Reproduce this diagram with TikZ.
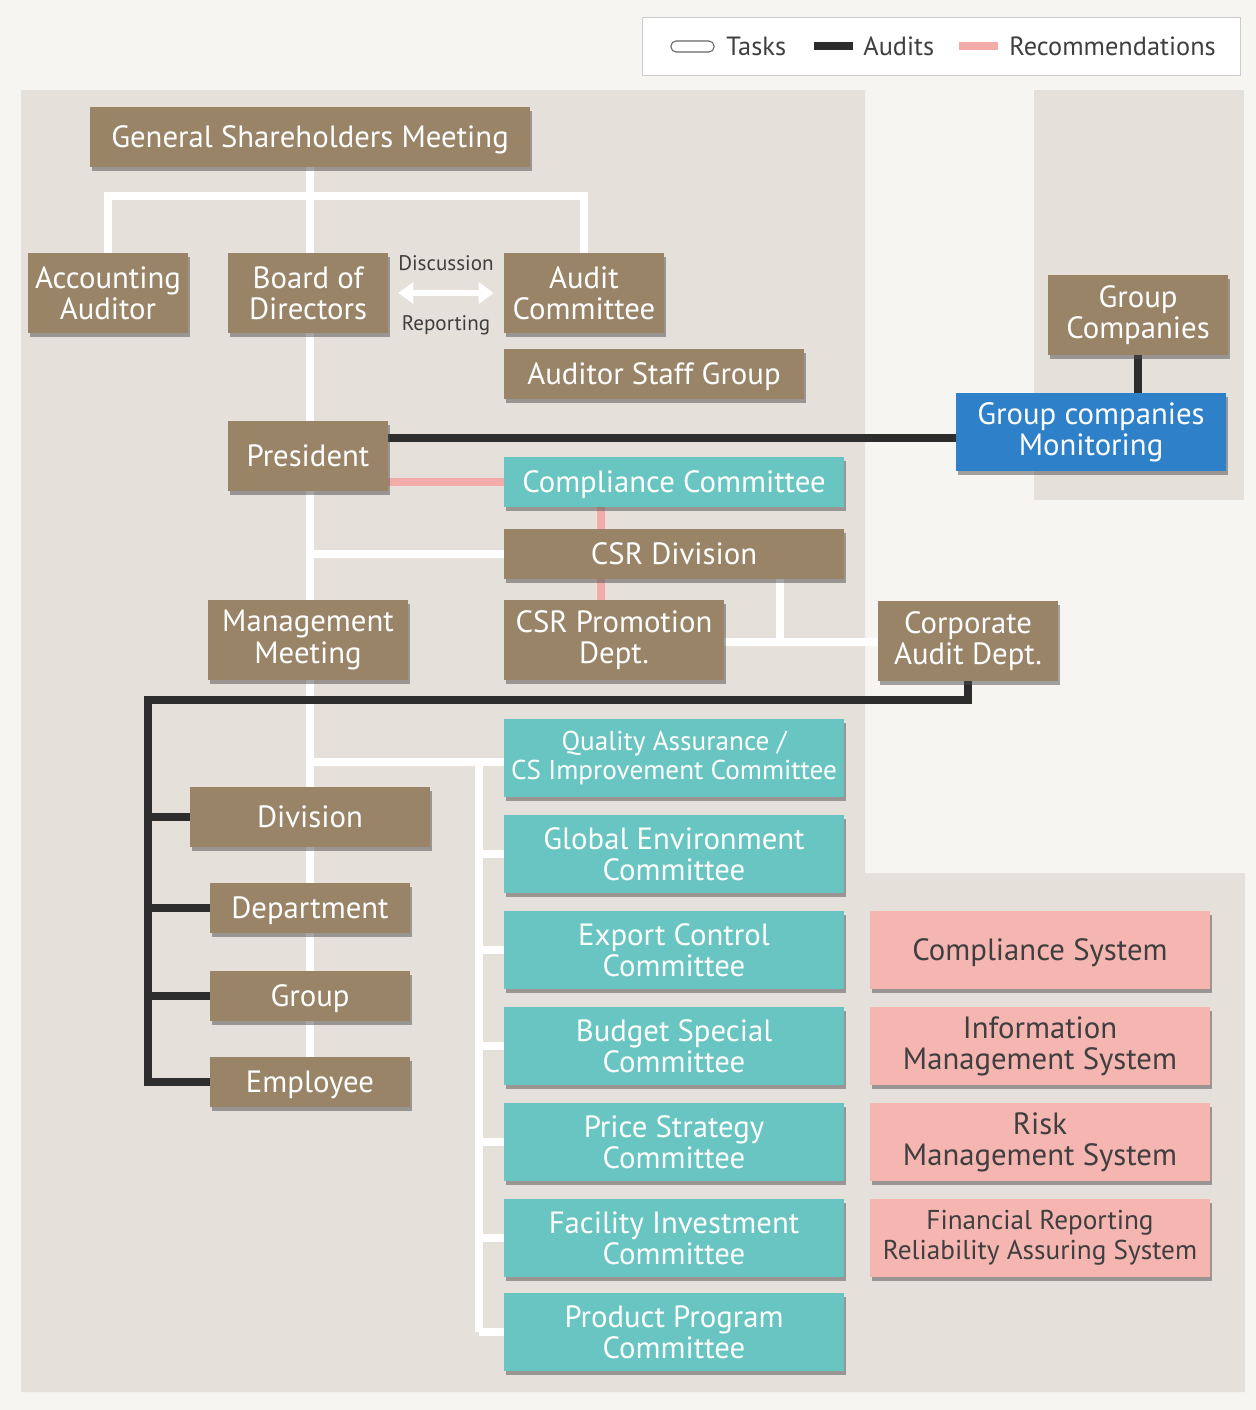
\documentclass[tikz,border=0pt]{standalone}
\usepackage{fontspec}
\setmainfont{PT Sans}
\usetikzlibrary{arrows.meta, calc, shadows}
\pgfdeclarelayer{bg}
\pgfdeclarelayer{wires}
\pgfsetlayers{bg,wires,main}
\definecolor{pagebg}{HTML}{F7F5F1}
\definecolor{panelbg}{HTML}{E6E0DB}
\definecolor{brownfill}{HTML}{9A8468}
\definecolor{tealfill}{HTML}{68C5C1}
\definecolor{bluefill}{HTML}{2E80C8}
\definecolor{pinkfill}{HTML}{F5B5B0}
\definecolor{pinkwire}{HTML}{F3ABA9}
\definecolor{auditwire}{HTML}{2D2D2D}
\definecolor{darktext}{HTML}{3F3F3F}

\begin{document}
\begin{tikzpicture}[x=0.02cm, y=-0.02cm,
  box/.style={inner sep=0pt, align=center, text=white, font=\fontsize{17.5}{17.8}\selectfont,
    drop shadow={shadow xshift=0.04cm, shadow yshift=-0.08cm, opacity=0.5, fill=black!70}},
  oneline/.style={text height=12.5pt, text depth=0pt},
  brownbox/.style={box, fill=brownfill},
  tealbox/.style={box, fill=tealfill, minimum width=6.8cm, minimum height=1.56cm},
  bluebox/.style={box, fill=bluefill},
  pinkbox/.style={box, fill=pinkfill, text=darktext, minimum width=6.8cm, minimum height=1.56cm},
  taskwire/.style={white, line width=0.15cm},
  auditline/.style={auditwire, line width=0.16cm},
  recline/.style={pinkwire, line width=0.16cm},
  smalltext/.style={text=darktext, font=\fontsize{12}{13}\selectfont},
  legendtext/.style={text=darktext, font=\fontsize{15}{16}\selectfont, anchor=west, inner sep=0pt}]
\useasboundingbox (0,0) rectangle (1256,1410);

\node[brownbox, oneline, minimum width=8.8cm, minimum height=1.2cm] (gsm) at (310,137) {General Shareholders Meeting};
\node[brownbox, minimum width=3.2cm, minimum height=1.6cm] (accaud) at (108,293) {Accounting\\Auditor};
\node[brownbox, minimum width=3.2cm, minimum height=1.6cm] (board) at (308,293) {Board of\\Directors};
\node[brownbox, minimum width=3.2cm, minimum height=1.6cm] (auditcom) at (584,293) {Audit\\Committee};
\node[brownbox, oneline, minimum width=6cm, minimum height=1cm] (staff) at (654,374) {Auditor Staff Group};
\node[brownbox, oneline, minimum width=3.2cm, minimum height=1.4cm] (pres) at (308,456) {President};
\node[tealbox, oneline, minimum height=1cm] (compcom) at (674,482) {Compliance Committee};
\node[brownbox, oneline, minimum width=6.8cm, minimum height=1cm] (csrdiv) at (674,554) {CSR Division};
\node[brownbox, minimum width=4cm, minimum height=1.6cm] (mgmt) at (308,640) {Management\\Meeting};
\node[brownbox, minimum width=4.4cm, minimum height=1.6cm] (csrpro) at (614,640) {CSR Promotion\\Dept.};
\node[brownbox, minimum width=3.6cm, minimum height=1.6cm] (corpaud) at (968,641) {Corporate\\Audit Dept.};
\node[brownbox, minimum width=3.6cm, minimum height=1.6cm] (grpco) at (1138,315) {Group\\Companies};
\node[bluebox, minimum width=5.4cm, minimum height=1.56cm] (monitor) at (1091,432) {Group companies\\Monitoring};

\node[tealbox, font=\fontsize{15.5}{17}\selectfont] (qacs) at (674,758) {Quality Assurance /\\CS Improvement Committee};
\node[tealbox] (globenv) at (674,854) {Global Environment\\Committee};
\node[tealbox] (export) at (674,950) {Export Control\\Committee};
\node[tealbox] (budget) at (674,1046) {Budget Special\\Committee};
\node[tealbox] (price) at (674,1142) {Price Strategy\\Committee};
\node[tealbox] (facility) at (674,1238) {Facility Investment\\Committee};
\node[tealbox] (product) at (674,1332) {Product Program\\Committee};

\node[brownbox, oneline, minimum width=4.8cm, minimum height=1.2cm] (division) at (310,817) {Division};
\node[brownbox, oneline, minimum width=4cm, minimum height=1cm] (dept) at (310,908) {Department};
\node[brownbox, oneline, minimum width=4cm, minimum height=1cm] (group) at (310,996) {Group};
\node[brownbox, oneline, minimum width=4cm, minimum height=1cm] (employee) at (310,1082) {Employee};

\node[pinkbox, oneline] (compsys) at (1040,950) {Compliance System};
\node[pinkbox] (infosys) at (1040,1046) {Information\\Management System};
\node[pinkbox] (risksys) at (1040,1142) {Risk\\Management System};
\node[pinkbox, font=\fontsize{15.5}{17}\selectfont] (finsys) at (1040,1238) {Financial Reporting\\Reliability Assuring System};

\node[draw=black!20, fill=white, minimum width=11.96cm, minimum height=1.16cm] (legend) at (941,46) {};
\draw[draw=black!60, fill=white, rounded corners=0.1cm, line width=0.6pt] (671,41) rectangle (714,52);
\node[legendtext] (ltasks) at (726,46) {Tasks};
\fill[auditwire] (814,42) rectangle (853,50);
\node[legendtext] (laudits) at (863,46) {Audits};
\fill[pinkwire] (959,42) rectangle (998,50);
\node[legendtext] (lrec) at (1009,46) {Recommendations};

\draw[white, line width=0.11cm, {Triangle[length=0.3cm, width=0.42cm]}-{Triangle[length=0.3cm, width=0.42cm]},
  shorten <=0.2cm, shorten >=0.2cm] (board.east) -- (auditcom.west)
  node[smalltext, midway, yshift=0.6cm] (disc) {Discussion}
  node[smalltext, midway, yshift=-0.64cm] (repo) {Reporting};

\begin{pgfonlayer}{bg}
\fill[pagebg] (0,0) rectangle (1256,1410);
\fill[panelbg] (21,90) -- (865,90) -- (865,873) -- (1245,873) -- (1245,1392) -- (21,1392) -- cycle;
\fill[panelbg] (1034,90) rectangle (1244,500);
\end{pgfonlayer}

\begin{pgfonlayer}{wires}
\coordinate (tbar) at (310,196);
\coordinate (tjoin) at (780,642);
\coordinate (cbus) at (479,762);
\coordinate (rx) at (601,0);
\coordinate (aud1) at (388,438);
\coordinate (abus) at (148,700);
\draw[taskwire] (gsm.south) -- (gsm.south |- employee.north);
\draw[taskwire] (accaud.north) -- (accaud.north |- tbar) -- (auditcom.north |- tbar) -- (auditcom.north);
\draw[taskwire] (gsm.south |- csrdiv.west) -- (csrdiv.west);
\draw[taskwire] (csrdiv.south -| tjoin) -- (tjoin);
\draw[taskwire] (csrpro.east |- tjoin) -- (corpaud.west |- tjoin);
\draw[taskwire] (gsm.south |- cbus) -- (qacs.west |- cbus);
\draw[taskwire] (cbus) -- (cbus |- product.west);
\foreach \c in {globenv, export, budget, price, facility, product}
  \draw[taskwire] (cbus |- \c.west) -- (\c.west);
\draw[recline] (pres.east |- compcom.west) -- (compcom.west);
\draw[recline] (compcom.south -| rx) -- (csrdiv.north -| rx);
\draw[recline] (csrdiv.south -| rx) -- (csrpro.north -| rx);
\draw[auditline] (pres.east |- aud1) -- (monitor.west |- aud1);
\draw[auditline] (grpco.south) -- (monitor.north -| grpco.south);
\draw[auditline] (corpaud.south) -- (corpaud.south |- abus) -- (abus) -- (abus |- employee.west) -- (employee.west);
\foreach \n in {division, dept, group}
  \draw[auditline] (abus |- \n.west) -- (\n.west);
\end{pgfonlayer}
\end{tikzpicture}
\end{document}
